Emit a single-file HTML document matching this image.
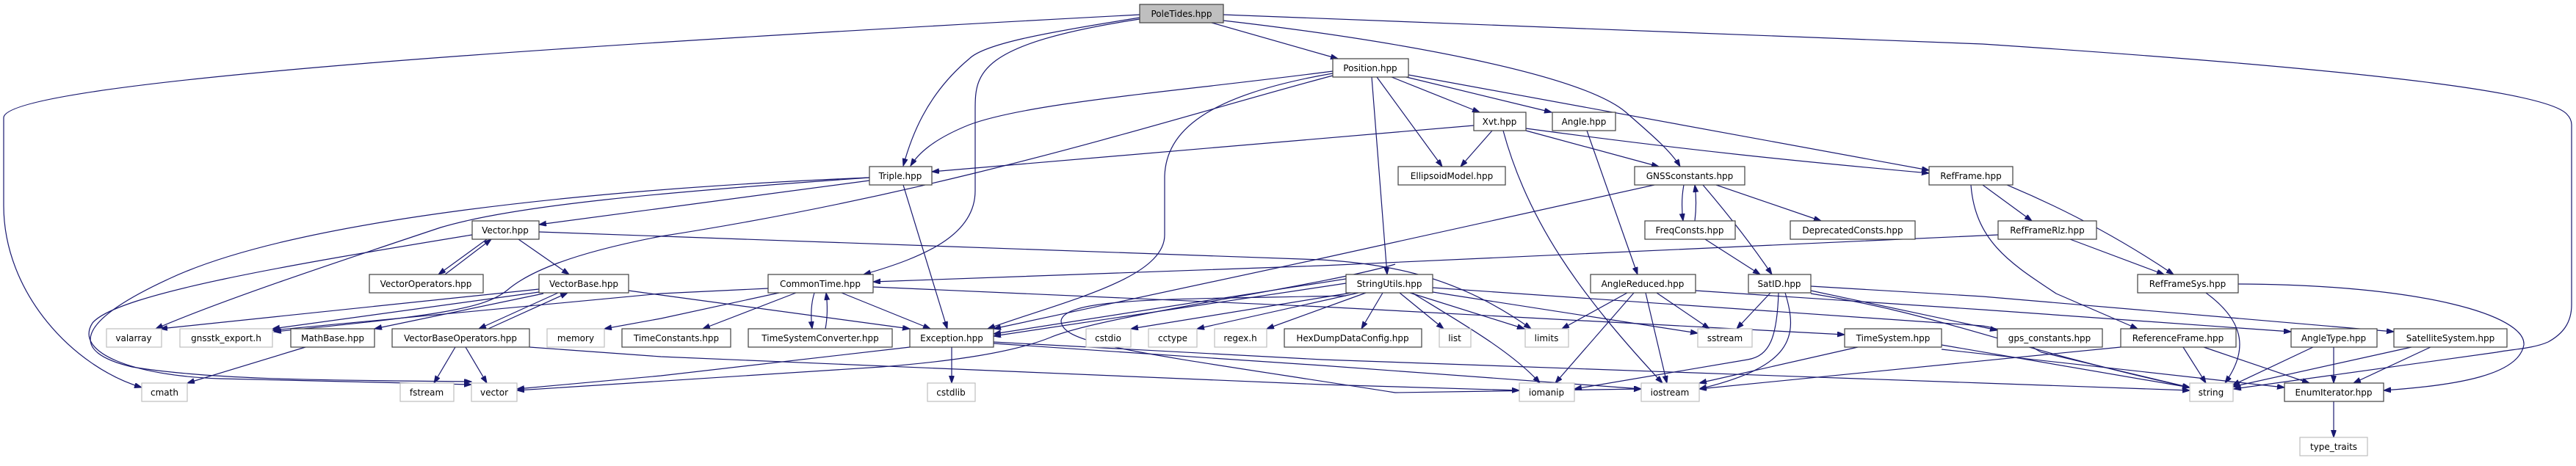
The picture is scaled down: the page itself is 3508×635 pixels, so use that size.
<!DOCTYPE html>
<html><head><meta charset="utf-8"><style>
html,body{margin:0;padding:0;background:#fff;}
svg{display:block;}
text{font-family:"DejaVu Sans","Liberation Sans",sans-serif;font-size:12px;fill:#000;}
.e{fill:none;stroke:#191970;stroke-width:1.2;marker-end:url(#a);}
.n{fill:#fff;stroke:#404040;stroke-width:1.2;}
.g{fill:#fff;stroke:#bfbfbf;stroke-width:1.2;}
</style></head><body>
<svg width="3508" height="635" viewBox="0 0 3508 635" xmlns="http://www.w3.org/2000/svg">
<defs><marker id="a" markerUnits="userSpaceOnUse" markerWidth="11" markerHeight="8" refX="10" refY="3.5" orient="auto"><path d="M0,0 L10,3.5 L0,7 z" fill="#191970" stroke="#191970"/></marker></defs>
<g>
<path class="e" d="M1552,20 C800,60 10,110 5,160 L5,280 C5,400 100,500 193,528"/>
<path class="e" d="M1552,24 C1420,45 1340,60 1320,80 C1260,130 1240,190 1230,226"/>
<path class="e" d="M1552,26 C1330,60 1328,100 1328,150 L1328,260 C1328,320 1260,350 1176,374"/>
<path class="e" d="M1650,31 L1822,80"/>
<path class="e" d="M1666,28 C1900,55 2150,100 2213,152 C2245,180 2275,205 2288,227"/>
<path class="e" d="M1666,20 L2700,60 C3300,100 3470,130 3495,155 C3500,160 3502,165 3502,170 L3502,415 C3502,440 3490,455 3470,466 C3450,475 3420,476 3400,480 L3042,530"/>
<path class="e" d="M1815,97 C1600,125 1400,140 1320,170 C1270,190 1250,210 1240,226"/>
<path class="e" d="M1815,103 C1600,160 1300,260 900,322 C780,345 720,370 690,396 C660,420 600,430 373,452"/>
<path class="e" d="M1815,100 C1640,130 1588,180 1586,240 L1586,320 C1586,380 1450,410 1345,448"/>
<path class="e" d="M1868,105 L1889,374"/>
<path class="e" d="M1875,105 L1964,227"/>
<path class="e" d="M1895,105 L2015,153"/>
<path class="e" d="M1915,105 L2113,153"/>
<path class="e" d="M1918,102 L2627,232"/>
<path class="e" d="M2007,171 L1269,234"/>
<path class="e" d="M2032,178 L1989,227"/>
<path class="e" d="M2078,178 L2259,227"/>
<path class="e" d="M2078,175 C2300,205 2450,220 2627,236"/>
<path class="e" d="M2047,178 C2080,300 2150,400 2264,522"/>
<path class="e" d="M2161,178 L2230,374"/>
<path class="e" d="M1184,246 C1000,270 850,290 734,306"/>
<path class="e" d="M1184,242 C900,262 700,280 600,310 C450,360 300,410 212,448"/>
<path class="e" d="M1184,242 C800,258 400,300 230,380 C100,440 95,480 180,500 C300,520 500,518 642,520"/>
<path class="e" d="M643,320 C400,360 160,400 126,440 C100,480 180,512 300,516 L642,524"/>
<path class="e" d="M1230,252 L1290,448"/>
<path class="e" d="M663,326 L597,374"/>
<path class="e" d="M606,374 L669,326"/>
<path class="e" d="M706,326 L775,374"/>
<path class="e" d="M734,316 L1800,354 C1900,360 1990,380 2085,448"/>
<path class="e" d="M734,394 L218,448"/>
<path class="e" d="M734,398 L371,448"/>
<path class="e" d="M740,400 L510,448"/>
<path class="e" d="M760,399 L652,448"/>
<path class="e" d="M665,448 L773,399"/>
<path class="e" d="M856,396 L900,402 L1239,448"/>
<path class="e" d="M1046,393 L900,400 L371,450"/>
<path class="e" d="M1061,399 L900,434 L823,448"/>
<path class="e" d="M1084,399 L957,448"/>
<path class="e" d="M1109,399 C1104,415 1104,432 1106,448"/>
<path class="e" d="M1124,448 C1127,432 1127,415 1125,399"/>
<path class="e" d="M1146,399 L1267,448"/>
<path class="e" d="M1189,391 L1800,418 L2512,456"/>
<path class="e" d="M620,473 L591,522"/>
<path class="e" d="M634,473 L663,522"/>
<path class="e" d="M721,473 L900,486 L1800,524 L2069,532"/>
<path class="e" d="M416,473 L255,522"/>
<path class="e" d="M1296,473 L1296,522"/>
<path class="e" d="M1239,473 L900,512 L704,530"/>
<path class="e" d="M1353,468 L1800,498 L2235,530"/>
<path class="e" d="M1353,466 L1800,490 L2700,522 L2982,532"/>
<path class="e" d="M1833,380 L1353,455"/>
<path class="e" d="M1833,386 L1353,458"/>
<path class="e" d="M1840,399 L1540,448"/>
<path class="e" d="M1850,399 L1630,448"/>
<path class="e" d="M1860,399 L1725,448"/>
<path class="e" d="M1883,399 L1854,448"/>
<path class="e" d="M1906,399 L1966,448"/>
<path class="e" d="M1920,399 L2076,448"/>
<path class="e" d="M1923,399 C1990,440 2060,480 2097,522"/>
<path class="e" d="M1951,398 L2312,454"/>
<path class="e" d="M1951,392 L2700,444 C2740,450 2760,470 2780,480 L2982,528"/>
<path class="e" d="M1833,403 C1600,408 1450,405 1445,437 C1445,470 1550,480 1900,535 L2235,530"/>
<path class="e" d="M1900,360 C1800,390 1500,430 1430,460 C1380,480 1300,492 1200,500 L704,532"/>
<path class="e" d="M2253,252 L1800,352 L1353,448"/>
<path class="e" d="M2293,252 C2290,268 2290,285 2292,301"/>
<path class="e" d="M2308,301 C2310,285 2310,268 2308,252"/>
<path class="e" d="M2337,252 L2480,301"/>
<path class="e" d="M2319,252 C2360,300 2390,340 2413,374"/>
<path class="e" d="M2322,326 L2397,374"/>
<path class="e" d="M2700,252 L2767,301"/>
<path class="e" d="M2733,252 C2800,280 2880,320 2960,374"/>
<path class="e" d="M2684,252 C2690,330 2740,360 2800,400 L2911,448"/>
<path class="e" d="M2721,320 L1800,362 L1189,384"/>
<path class="e" d="M2819,326 L2947,374"/>
<path class="e" d="M3004,399 C3060,440 3060,480 3030,522"/>
<path class="e" d="M3048,387 C3300,388 3440,430 3437,470 C3430,510 3350,525 3246,532"/>
<path class="e" d="M2216,399 L2127,448"/>
<path class="e" d="M2225,399 L2118,522"/>
<path class="e" d="M2241,399 L2270,522"/>
<path class="e" d="M2256,399 L2328,448"/>
<path class="e" d="M2309,396 L2700,422 L3120,452"/>
<path class="e" d="M2411,399 L2365,448"/>
<path class="e" d="M2422,399 C2420,460 2410,485 2380,490 L2144,530"/>
<path class="e" d="M2431,399 C2450,460 2440,500 2314,530"/>
<path class="e" d="M2466,390 L2700,404 L3260,452"/>
<path class="e" d="M2466,396 L2720,450"/>
<path class="e" d="M2466,400 C2650,430 2720,470 2982,528"/>
<path class="e" d="M2530,473 L2314,522"/>
<path class="e" d="M2644,470 L2982,528"/>
<path class="e" d="M2644,476 L3111,528"/>
<path class="e" d="M2888,473 L2314,530"/>
<path class="e" d="M2973,473 L3004,522"/>
<path class="e" d="M3001,473 L3145,522"/>
<path class="e" d="M3150,473 L3040,525"/>
<path class="e" d="M3178,473 L3178,522"/>
<path class="e" d="M3284,473 L3040,527"/>
<path class="e" d="M3310,473 L3205,522"/>
<path class="e" d="M3178,547 L3178,596"/>
</g>
<g>
<rect x="1552" y="6" width="114" height="25" fill="#bfbfbf" stroke="#404040" stroke-width="1.2"/><text x="1609" y="23" text-anchor="middle">PoleTides.hpp</text>
<rect class="n" x="1815" y="80" width="103" height="25"/><text x="1866" y="97" text-anchor="middle">Position.hpp</text>
<rect class="n" x="2007" y="153" width="71" height="25"/><text x="2042" y="170" text-anchor="middle">Xvt.hpp</text>
<rect class="n" x="2114" y="153" width="86" height="25"/><text x="2157" y="170" text-anchor="middle">Angle.hpp</text>
<rect class="n" x="1184" y="227" width="85" height="25"/><text x="1226" y="244" text-anchor="middle">Triple.hpp</text>
<rect class="n" x="1904" y="227" width="146" height="25"/><text x="1977" y="244" text-anchor="middle">EllipsoidModel.hpp</text>
<rect class="n" x="2226" y="227" width="150" height="25"/><text x="2301" y="244" text-anchor="middle">GNSSconstants.hpp</text>
<rect class="n" x="2627" y="227" width="114" height="25"/><text x="2684" y="244" text-anchor="middle">RefFrame.hpp</text>
<rect class="n" x="643" y="301" width="91" height="25"/><text x="688" y="318" text-anchor="middle">Vector.hpp</text>
<rect class="n" x="2240" y="301" width="123" height="25"/><text x="2301" y="318" text-anchor="middle">FreqConsts.hpp</text>
<rect class="n" x="2438" y="301" width="170" height="25"/><text x="2523" y="318" text-anchor="middle">DeprecatedConsts.hpp</text>
<rect class="n" x="2721" y="301" width="134" height="25"/><text x="2788" y="318" text-anchor="middle">RefFrameRlz.hpp</text>
<rect class="n" x="503" y="374" width="155" height="25"/><text x="580" y="391" text-anchor="middle">VectorOperators.hpp</text>
<rect class="n" x="734" y="374" width="122" height="25"/><text x="795" y="391" text-anchor="middle">VectorBase.hpp</text>
<rect class="n" x="1046" y="374" width="143" height="25"/><text x="1117" y="391" text-anchor="middle">CommonTime.hpp</text>
<rect class="n" x="1833" y="374" width="118" height="25"/><text x="1892" y="391" text-anchor="middle">StringUtils.hpp</text>
<rect class="n" x="2166" y="374" width="143" height="25"/><text x="2237" y="391" text-anchor="middle">AngleReduced.hpp</text>
<rect class="n" x="2381" y="374" width="85" height="25"/><text x="2423" y="391" text-anchor="middle">SatID.hpp</text>
<rect class="n" x="2911" y="374" width="137" height="25"/><text x="2979" y="391" text-anchor="middle">RefFrameSys.hpp</text>
<rect class="g" x="145" y="448" width="75" height="25"/><text x="182" y="465" text-anchor="middle">valarray</text>
<rect class="g" x="245" y="448" width="126" height="25"/><text x="308" y="465" text-anchor="middle">gnsstk_export.h</text>
<rect class="n" x="396" y="448" width="114" height="25"/><text x="453" y="465" text-anchor="middle">MathBase.hpp</text>
<rect class="n" x="534" y="448" width="187" height="25"/><text x="627" y="465" text-anchor="middle">VectorBaseOperators.hpp</text>
<rect class="g" x="745" y="448" width="78" height="25"/><text x="784" y="465" text-anchor="middle">memory</text>
<rect class="n" x="847" y="448" width="148" height="25"/><text x="921" y="465" text-anchor="middle">TimeConstants.hpp</text>
<rect class="n" x="1019" y="448" width="196" height="25"/><text x="1117" y="465" text-anchor="middle">TimeSystemConverter.hpp</text>
<rect class="n" x="1239" y="448" width="114" height="25"/><text x="1296" y="465" text-anchor="middle">Exception.hpp</text>
<rect class="g" x="1479" y="448" width="61" height="25"/><text x="1509" y="465" text-anchor="middle">cstdio</text>
<rect class="g" x="1564" y="448" width="66" height="25"/><text x="1597" y="465" text-anchor="middle">cctype</text>
<rect class="g" x="1654" y="448" width="71" height="25"/><text x="1689" y="465" text-anchor="middle">regex.h</text>
<rect class="n" x="1749" y="448" width="187" height="25"/><text x="1842" y="465" text-anchor="middle">HexDumpDataConfig.hpp</text>
<rect class="g" x="1960" y="448" width="43" height="25"/><text x="1981" y="465" text-anchor="middle">list</text>
<rect class="g" x="2077" y="448" width="59" height="25"/><text x="2106" y="465" text-anchor="middle">limits</text>
<rect class="g" x="2312" y="448" width="74" height="25"/><text x="2349" y="465" text-anchor="middle">sstream</text>
<rect class="n" x="2512" y="448" width="132" height="25"/><text x="2578" y="465" text-anchor="middle">TimeSystem.hpp</text>
<rect class="n" x="2720" y="448" width="143" height="25"/><text x="2791" y="465" text-anchor="middle">gps_constants.hpp</text>
<rect class="n" x="2888" y="448" width="157" height="25"/><text x="2966" y="465" text-anchor="middle">ReferenceFrame.hpp</text>
<rect class="n" x="3120" y="448" width="117" height="25"/><text x="3178" y="465" text-anchor="middle">AngleType.hpp</text>
<rect class="n" x="3260" y="448" width="154" height="25"/><text x="3337" y="465" text-anchor="middle">SatelliteSystem.hpp</text>
<rect class="g" x="193" y="522" width="62" height="25"/><text x="224" y="539" text-anchor="middle">cmath</text>
<rect class="g" x="545" y="522" width="73" height="25"/><text x="581" y="539" text-anchor="middle">fstream</text>
<rect class="g" x="642" y="522" width="62" height="25"/><text x="673" y="539" text-anchor="middle">vector</text>
<rect class="g" x="1263" y="522" width="65" height="25"/><text x="1295" y="539" text-anchor="middle">cstdlib</text>
<rect class="g" x="2069" y="522" width="75" height="25"/><text x="2106" y="539" text-anchor="middle">iomanip</text>
<rect class="g" x="2235" y="522" width="79" height="25"/><text x="2274" y="539" text-anchor="middle">iostream</text>
<rect class="g" x="2982" y="522" width="59" height="25"/><text x="3011" y="539" text-anchor="middle">string</text>
<rect class="n" x="3111" y="522" width="135" height="25"/><text x="3178" y="539" text-anchor="middle">EnumIterator.hpp</text>
<rect class="g" x="3132" y="596" width="92" height="25"/><text x="3178" y="613" text-anchor="middle">type_traits</text>
</g>
</svg>
</body></html>
